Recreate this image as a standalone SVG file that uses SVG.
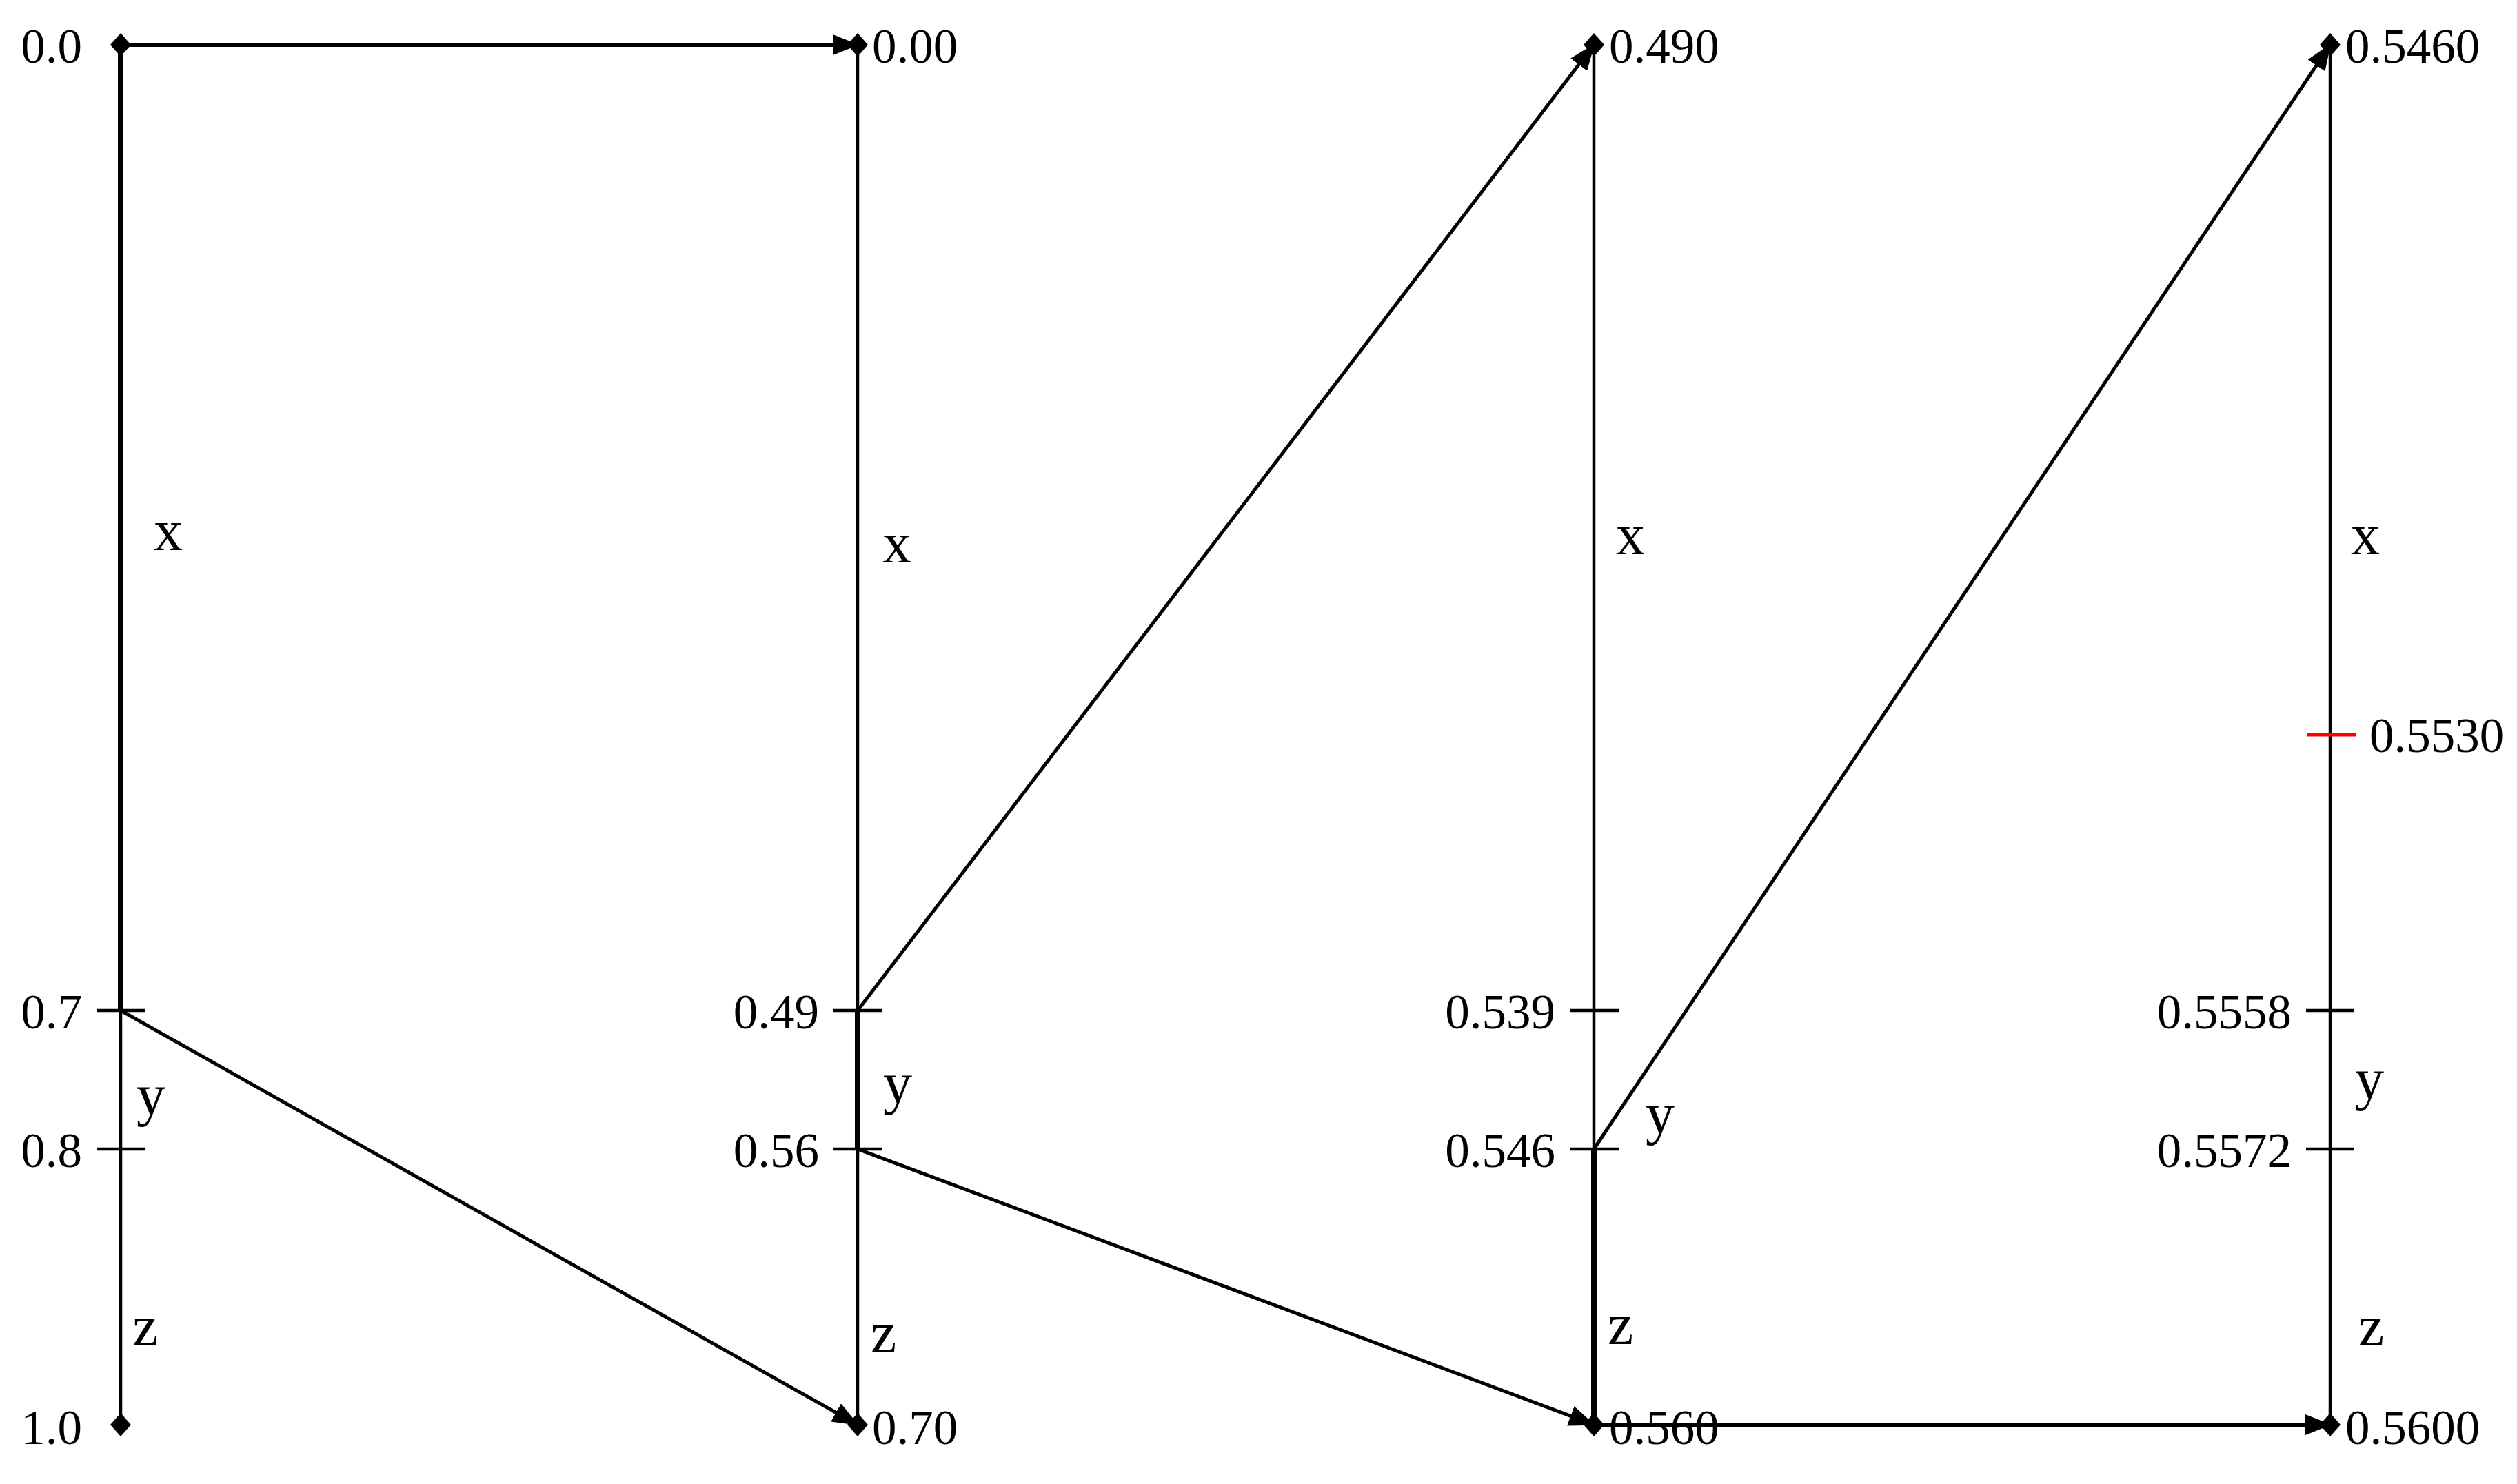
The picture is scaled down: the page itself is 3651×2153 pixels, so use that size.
<svg xmlns="http://www.w3.org/2000/svg" width="3651" height="2153" viewBox="0 0 3651 2153">
<style>
.num{font-family:"Liberation Serif","Times New Roman",serif;font-size:71px;fill:#000}
.end{text-anchor:end}
.lab{font-family:"Liberation Serif","Times New Roman",serif;font-size:84px;fill:#000}
.axis{stroke:#000;stroke-width:4.5;fill:none}
.sel{stroke:#000;stroke-width:8;fill:none}
.tick{stroke:#000;stroke-width:4.5}
.conn{stroke:#000;stroke-width:5;fill:none}
.hconn{stroke:#000;stroke-width:6;fill:none}
.dia{fill:#000}
</style>
<defs>
<marker id="arrow" markerUnits="userSpaceOnUse" markerWidth="38" markerHeight="30" viewBox="0 0 38 30" refX="36" refY="15" orient="auto">
<path d="M0,0 L38,15 L0,30 Z" fill="#000"/>
</marker>
<path id="diamond" d="M0,-17 L15,0 L0,17 L-15,0 Z"/>
</defs>
<rect width="3651" height="2153" fill="#fff"/>

<g id="axis1">
<line class="axis" x1="175" y1="65" x2="175" y2="2067"/>
<line class="sel" x1="175" y1="65" x2="175" y2="1466"/>
<line class="tick" x1="141" y1="1466" x2="210" y2="1466"/>
<line class="tick" x1="141" y1="1667" x2="210" y2="1667"/>
<use href="#diamond" class="dia" x="175" y="65"/>
<use href="#diamond" class="dia" x="175" y="2067"/>
<text class="num end" x="119" y="91">0.0</text>
<text class="num end" x="119" y="1492">0.7</text>
<text class="num end" x="119" y="1693">0.8</text>
<text class="num end" x="119" y="2095">1.0</text>
<text class="lab" x="223" y="798">x</text>
<text class="lab" x="198" y="1617">y</text>
<text class="lab" x="192" y="1952">z</text>
</g>

<g id="axis2">
<line class="axis" x1="1244" y1="65" x2="1244" y2="2067"/>
<line class="sel" x1="1244" y1="1466" x2="1244" y2="1667"/>
<line class="tick" x1="1209" y1="1466" x2="1279" y2="1466"/>
<line class="tick" x1="1209" y1="1667" x2="1279" y2="1667"/>
<use href="#diamond" class="dia" x="1244" y="65"/>
<use href="#diamond" class="dia" x="1244" y="2067"/>
<text class="num" x="1265" y="91">0.00</text>
<text class="num end" x="1188" y="1492">0.49</text>
<text class="num end" x="1188" y="1693">0.56</text>
<text class="num" x="1265" y="2095">0.70</text>
<text class="lab" x="1280" y="816">x</text>
<text class="lab" x="1281" y="1600">y</text>
<text class="lab" x="1263" y="1962">z</text>
</g>

<g id="axis3">
<line class="axis" x1="2312" y1="65" x2="2312" y2="2067"/>
<line class="sel" x1="2312" y1="1667" x2="2312" y2="2067"/>
<line class="tick" x1="2277" y1="1466" x2="2348" y2="1466"/>
<line class="tick" x1="2277" y1="1667" x2="2348" y2="1667"/>
<use href="#diamond" class="dia" x="2312" y="65"/>
<use href="#diamond" class="dia" x="2312" y="2067"/>
<text class="num" x="2334" y="91">0.490</text>
<text class="num end" x="2256" y="1492">0.539</text>
<text class="num end" x="2256" y="1693">0.546</text>
<text class="num" x="2334" y="2095">0.560</text>
<text class="lab" x="2344" y="804">x</text>
<text class="lab" x="2387" y="1644">y</text>
<text class="lab" x="2332" y="1950">z</text>
</g>

<g id="axis4">
<line class="axis" x1="3380" y1="65" x2="3380" y2="2067"/>
<line class="tick" x1="3345" y1="1466" x2="3415" y2="1466"/>
<line class="tick" x1="3345" y1="1667" x2="3415" y2="1667"/>
<line x1="3347" y1="1066" x2="3418" y2="1066" stroke="#ff0000" stroke-width="5"/>
<use href="#diamond" class="dia" x="3380" y="65"/>
<use href="#diamond" class="dia" x="3380" y="2067"/>
<text class="num" x="3402" y="91">0.5460</text>
<text class="num" x="3437" y="1091">0.5530</text>
<text class="num end" x="3324" y="1492">0.5558</text>
<text class="num end" x="3324" y="1693">0.5572</text>
<text class="num" x="3402" y="2095">0.5600</text>
<text class="lab" x="3410" y="804">x</text>
<text class="lab" x="3416" y="1594">y</text>
<text class="lab" x="3421" y="1952">z</text>
</g>

<g id="connectors">
<line class="hconn" x1="175" y1="65" x2="1244" y2="65" marker-end="url(#arrow)"/>
<line class="conn" x1="175" y1="1466" x2="1244" y2="2067" marker-end="url(#arrow)"/>
<line class="conn" x1="1244" y1="1466" x2="2312" y2="65" marker-end="url(#arrow)"/>
<line class="conn" x1="1244" y1="1667" x2="2312" y2="2067" marker-end="url(#arrow)"/>
<line class="conn" x1="2312" y1="1667" x2="3380" y2="65" marker-end="url(#arrow)"/>
<line class="hconn" x1="2312" y1="2067" x2="3380" y2="2067" marker-end="url(#arrow)"/>
</g>
</svg>
